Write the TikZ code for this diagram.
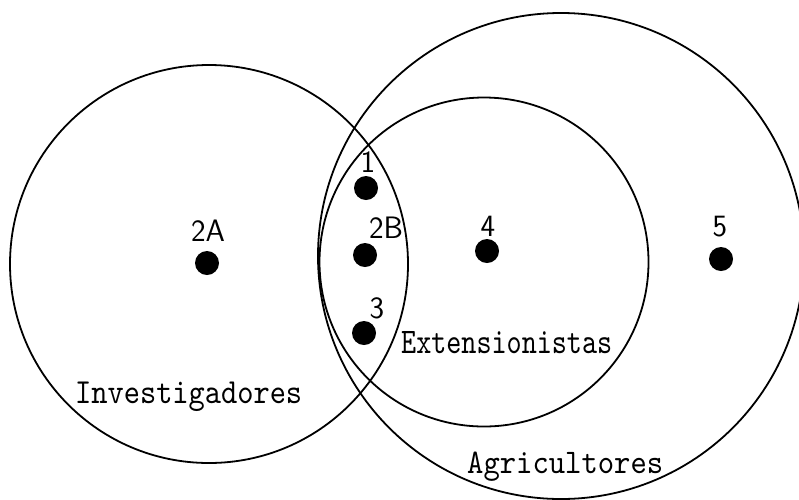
\documentclass[tikz,border=0pt]{standalone}
\usepackage{fontspec}
\usepackage{graphicx}
\begin{document}
\begin{tikzpicture}[x=1pt,y=-1pt,
  ring/.style={draw=black,line width=1.8pt,circle,inner sep=0pt},
  dot/.style={fill=black,circle,inner sep=0pt,minimum size=24pt},
  num/.style={font=\fontsize{31}{31}\selectfont\sffamily,inner sep=0pt},
  grp/.style={inner sep=0pt,anchor=base west}]
\useasboundingbox (0,0) rectangle (799,499);
\clip (0,0) rectangle (799,499);
\fill[white] (0,0) rectangle (799,499);
% circles
\node[ring,minimum size=398pt] (inv) at (209,264) {};
\node[ring,minimum size=486pt] (agr) at (561,256) {};
\node[ring,minimum size=329pt] (ext) at (484,262) {};
% dots
\node[dot] (d1) at (366,188) {};
\node[dot] (d2a) at (207,263) {};
\node[dot] (d2b) at (365,255) {};
\node[dot] (d3) at (364,333) {};
\node[dot] (d4) at (487,251) {};
\node[dot] (d5) at (721,259) {};
% number labels
\node[num] (l1) at (368,162) {1};
\node[num] (l2a) at (208,231) {2A};
\node[num] (l2b) at (386,228) {2B};
\node[num] (l3) at (377,308) {3};
\node[num] (l4) at (488,226) {4};
\node[num] (l5) at (720,227) {5};
% group labels
\node[grp] (tinv) at (75,403) {\resizebox{227pt}{21.5pt}{\ttfamily Investigadores}};
\node[grp] (text) at (401,353) {\resizebox{211pt}{22pt}{\ttfamily Extensionistas}};
\node[grp] (tagr) at (467,473) {\resizebox{196pt}{21.5pt}{\ttfamily Agricultores}};
\end{tikzpicture}
\end{document}
